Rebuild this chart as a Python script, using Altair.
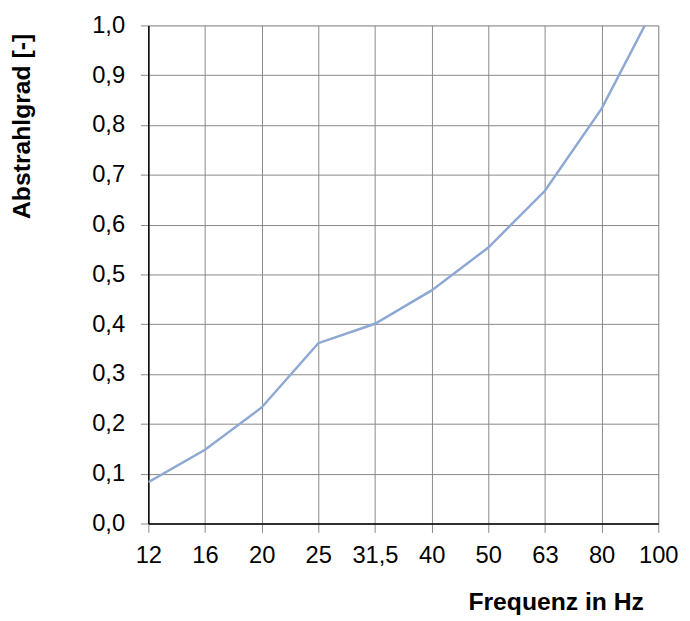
import altair as alt
import pandas as pd

freq_labels = ["12", "16", "20", "25", "31,5", "40", "50", "63", "80", "100"]
abstrahlgrad = [0.083, 0.148, 0.233, 0.362, 0.401, 0.468, 0.554, 0.668, 0.833, 1.052]

df = pd.DataFrame({"Frequenz": freq_labels, "Abstrahlgrad": abstrahlgrad})

FONT = "Liberation Sans"

line = alt.Chart(df).mark_line(
    clip=True, color="#8EA8D4", strokeWidth=2.5
).encode(
    x=alt.X(
        "Frequenz:N",
        sort=freq_labels,
        scale=alt.Scale(type="point", padding=0),
        axis=alt.Axis(
            title="Frequenz in Hz",
            labelAngle=0,
            labelFont=FONT,
            labelFontSize=24,
            labelColor="black",
            labelPadding=11,
            tickSize=9,
            tickColor="#888888",
            domainColor="black",
            domainWidth=1.5,
            grid=True,
            gridColor="#888888",
            gridWidth=1,
            titleFont=FONT,
            titleFontSize=25,
            titleFontWeight="bold",
            titleColor="black",
            titleAlign="right",
            titleBaseline="alphabetic",
            titleX=501,
            titleY=87,
        ),
    ),
    y=alt.Y(
        "Abstrahlgrad:Q",
        scale=alt.Scale(domain=[0, 1], nice=False),
        axis=alt.Axis(
            title="Abstrahlgrad [-]",
            values=[0, 0.1, 0.2, 0.3, 0.4, 0.5, 0.6, 0.7, 0.8, 0.9, 1.0],
            labelExpr="replace(format(datum.value, '.1f'), '.', ',')",
            labelFont=FONT,
            labelFontSize=24,
            labelColor="black",
            labelPadding=16,
            tickSize=8,
            tickColor="#888888",
            domainColor="black",
            domainWidth=1.5,
            grid=True,
            gridColor="#888888",
            gridWidth=1,
            titleFont=FONT,
            titleFontSize=25,
            titleFontWeight="bold",
            titleColor="black",
            titleAngle=-90,
            titleAlign="right",
            titleBaseline="alphabetic",
            titleX=-120,
            titleY=8,
        ),
    ),
)

chart = line.properties(
    width=516,
    height=504,
    autosize=alt.AutoSizeParams(type="none"),
    padding={"left": 142, "top": 14, "right": 24, "bottom": 92},
).configure_view(
    stroke="black", strokeWidth=1.5
).configure(background="white")

chart.save("out.html", embed_options={"renderer": "svg", "actions": False})
